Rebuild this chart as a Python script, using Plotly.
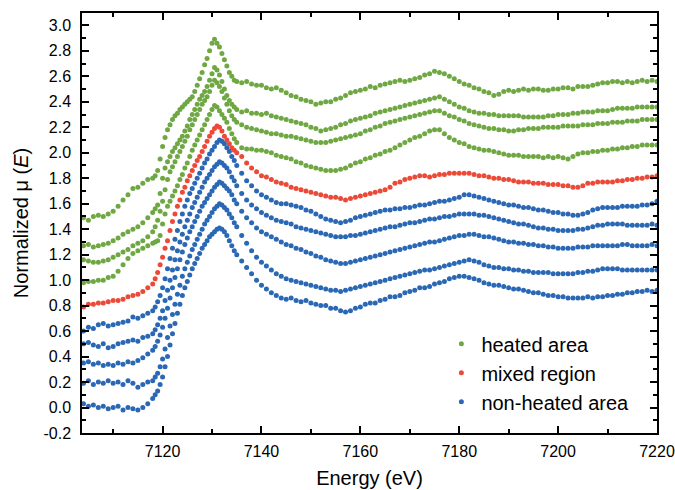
import plotly.graph_objects as go

# Energy sampling (eV): pre-edge 1 eV, edge 0.5 eV, post-edge 1 eV
E_PRE = list(range(7104, 7118))
E_EDGE = [7118 + 0.5 * i for i in range(35)]
E_POST = list(range(7136, 7221))
ENERGY = E_PRE + E_EDGE + E_POST

# ---------------- heated area (green) ----------------
G1_pre = [1.49, 1.47, 1.50, 1.51, 1.50, 1.52, 1.54, 1.58, 1.63, 1.67, 1.72, 1.73, 1.76, 1.79]
G1_edge = [1.80, 1.82, 1.86, 1.95, 2.05, 2.12, 2.18, 2.22, 2.26, 2.29,
           2.31, 2.34, 2.36, 2.38, 2.40, 2.42, 2.44, 2.48, 2.53, 2.58,
           2.63, 2.69, 2.74, 2.80, 2.86, 2.89, 2.86, 2.83, 2.78, 2.73,
           2.68, 2.63, 2.60, 2.57, 2.56]
G1_post = [2.55, 2.56, 2.54, 2.53, 2.53, 2.51, 2.50, 2.51, 2.49, 2.47,
           2.45, 2.44, 2.42, 2.41, 2.40, 2.38, 2.39, 2.40, 2.40, 2.42,
           2.43, 2.45, 2.47, 2.48, 2.49, 2.50, 2.52, 2.51, 2.53, 2.54,
           2.55, 2.56, 2.57, 2.56, 2.57, 2.58, 2.59, 2.61, 2.62, 2.64,
           2.63, 2.62, 2.60, 2.58, 2.56, 2.54, 2.53, 2.51, 2.50, 2.48,
           2.47, 2.45, 2.46, 2.48, 2.49, 2.48, 2.49, 2.50, 2.49, 2.50,
           2.50, 2.49, 2.49, 2.50, 2.50, 2.51, 2.51, 2.50, 2.52, 2.52,
           2.52, 2.53, 2.54, 2.55, 2.55, 2.56, 2.56, 2.55, 2.56, 2.55,
           2.56, 2.57, 2.56, 2.57, 2.56]

G2_pre = [1.27, 1.28, 1.26, 1.27, 1.28, 1.29, 1.31, 1.33, 1.36, 1.38, 1.40, 1.42, 1.45, 1.49]
G2_edge = [1.53, 1.56, 1.59, 1.68, 1.80, 1.88, 1.93, 1.97, 2.01, 2.04,
           2.07, 2.10, 2.13, 2.17, 2.21, 2.26, 2.30, 2.34, 2.38, 2.42,
           2.45, 2.48, 2.52, 2.57, 2.62, 2.67, 2.65, 2.61, 2.56, 2.50,
           2.45, 2.41, 2.38, 2.36, 2.34]
G2_post = [2.32, 2.33, 2.31, 2.31, 2.30, 2.31, 2.29, 2.28, 2.27, 2.26,
           2.25, 2.24, 2.23, 2.22, 2.20, 2.19, 2.17, 2.18, 2.19, 2.20,
           2.22, 2.23, 2.25, 2.26, 2.27, 2.28, 2.29, 2.31, 2.32, 2.33,
           2.34, 2.35, 2.36, 2.37, 2.38, 2.39, 2.40, 2.41, 2.42, 2.43,
           2.44, 2.42, 2.40, 2.38, 2.36, 2.35, 2.33, 2.32, 2.31, 2.31,
           2.30, 2.30, 2.29, 2.29, 2.29, 2.29, 2.29, 2.28, 2.28, 2.28,
           2.28, 2.28, 2.29, 2.29, 2.30, 2.30, 2.30, 2.31, 2.31, 2.32,
           2.32, 2.32, 2.33, 2.33, 2.33, 2.34, 2.35, 2.35, 2.35, 2.35,
           2.36, 2.36, 2.36, 2.36, 2.36]

G3_pre = [1.16, 1.15, 1.14, 1.14, 1.15, 1.16, 1.18, 1.20, 1.22, 1.24, 1.27, 1.29, 1.31, 1.34]
G3_edge = [1.38, 1.42, 1.47, 1.54, 1.62, 1.71, 1.79, 1.85, 1.89, 1.93,
           1.97, 2.01, 2.05, 2.09, 2.13, 2.18, 2.22, 2.26, 2.30, 2.34,
           2.38, 2.41, 2.44, 2.48, 2.53, 2.57, 2.55, 2.52, 2.48, 2.43,
           2.38, 2.33, 2.29, 2.26, 2.24]
G3_post = [2.22, 2.20, 2.19, 2.18, 2.17, 2.16, 2.15, 2.15, 2.14, 2.13,
           2.13, 2.12, 2.11, 2.10, 2.09, 2.08, 2.08, 2.08, 2.09, 2.10,
           2.11, 2.12, 2.13, 2.14, 2.15, 2.17, 2.18, 2.20, 2.21, 2.23,
           2.24, 2.25, 2.26, 2.27, 2.28, 2.29, 2.30, 2.31, 2.32, 2.33,
           2.33, 2.31, 2.29, 2.28, 2.26, 2.25, 2.23, 2.22, 2.21, 2.20,
           2.19, 2.19, 2.18, 2.18, 2.17, 2.17, 2.18, 2.18, 2.19, 2.19,
           2.19, 2.20, 2.20, 2.20, 2.20, 2.21, 2.21, 2.21, 2.21, 2.22,
           2.22, 2.22, 2.23, 2.23, 2.23, 2.24, 2.24, 2.24, 2.25, 2.25,
           2.25, 2.26, 2.26, 2.26, 2.26]

G4_pre = [0.98, 0.99, 0.99, 1.00, 1.00, 1.02, 1.03, 1.07, 1.12, 1.17, 1.21, 1.23, 1.25, 1.27]
G4_edge = [1.29, 1.30, 1.31, 1.35, 1.44, 1.52, 1.58, 1.62, 1.66, 1.70,
           1.74, 1.79, 1.83, 1.88, 1.92, 1.97, 2.02, 2.06, 2.10, 2.14,
           2.18, 2.22, 2.26, 2.30, 2.34, 2.37, 2.36, 2.33, 2.30, 2.27,
           2.24, 2.19, 2.15, 2.11, 2.08]
G4_post = [2.04, 2.03, 2.03, 2.02, 2.02, 2.01, 2.00, 1.98, 1.97, 1.96,
           1.95, 1.93, 1.92, 1.90, 1.89, 1.88, 1.87, 1.86, 1.86, 1.86,
           1.87, 1.88, 1.90, 1.92, 1.93, 1.95, 1.96, 1.98, 1.99, 2.01,
           2.02, 2.04, 2.06, 2.08, 2.10, 2.12, 2.13, 2.15, 2.17, 2.18,
           2.18, 2.15, 2.12, 2.10, 2.08, 2.07, 2.05, 2.04, 2.03, 2.02,
           2.02, 2.01, 2.00, 1.99, 1.98, 1.98, 1.98, 1.97, 1.97, 1.97,
           1.97, 1.96, 1.97, 1.96, 1.97, 1.96, 1.95, 1.97, 1.99, 2.00,
           2.00, 2.01, 2.01, 2.02, 2.02, 2.03, 2.03, 2.04, 2.04, 2.05,
           2.05, 2.06, 2.06, 2.06, 2.06]

# ---------------- mixed region (red) ----------------
R_pre = [0.79, 0.81, 0.81, 0.82, 0.82, 0.83, 0.84, 0.84, 0.85, 0.87, 0.88, 0.89, 0.91, 0.94]
R_edge = [0.97, 1.01, 1.06, 1.12, 1.18, 1.25, 1.31, 1.39, 1.46, 1.52,
          1.58, 1.63, 1.69, 1.73, 1.78, 1.82, 1.86, 1.90, 1.94, 1.97,
          2.01, 2.05, 2.09, 2.13, 2.16, 2.19, 2.21, 2.20, 2.17, 2.13,
          2.10, 2.07, 2.04, 2.02, 2.00]
R_post = [1.97, 1.92, 1.88, 1.85, 1.82, 1.81, 1.79, 1.77, 1.76, 1.75,
          1.73, 1.72, 1.71, 1.70, 1.69, 1.68, 1.67, 1.66, 1.65, 1.65,
          1.64, 1.63, 1.64, 1.65, 1.66, 1.67, 1.68, 1.69, 1.70, 1.71,
          1.73, 1.76, 1.77, 1.79, 1.80, 1.81, 1.82, 1.82, 1.81, 1.82,
          1.83, 1.83, 1.84, 1.84, 1.84, 1.84, 1.84, 1.83, 1.82, 1.82,
          1.81, 1.80, 1.80, 1.79, 1.79, 1.78, 1.77, 1.77, 1.77, 1.76,
          1.76, 1.76, 1.75, 1.75, 1.75, 1.74, 1.74, 1.73, 1.73, 1.74,
          1.76, 1.76, 1.77, 1.77, 1.77, 1.77, 1.78, 1.78, 1.79, 1.79,
          1.80, 1.80, 1.81, 1.81, 1.82]

# ---------------- non-heated area (blue) ----------------
B1_pre = [0.60, 0.63, 0.62, 0.65, 0.66, 0.64, 0.65, 0.66, 0.67, 0.68, 0.71, 0.70, 0.72, 0.74]
B1_edge = [0.76, 0.79, 0.83, 0.88, 0.94, 1.01, 1.09, 1.17, 1.25, 1.32,
           1.39, 1.46, 1.52, 1.58, 1.63, 1.68, 1.72, 1.76, 1.80, 1.84,
           1.88, 1.92, 1.95, 1.99, 2.02, 2.05, 2.08, 2.10, 2.09, 2.07,
           2.04, 2.01, 1.97, 1.94, 1.90]
B1_post = [1.84, 1.78, 1.74, 1.70, 1.67, 1.65, 1.63, 1.61, 1.60, 1.60,
           1.59, 1.58, 1.57, 1.55, 1.54, 1.52, 1.50, 1.48, 1.47, 1.46,
           1.45, 1.46, 1.47, 1.49, 1.50, 1.51, 1.52, 1.53, 1.54, 1.55,
           1.55, 1.56, 1.56, 1.57, 1.57, 1.58, 1.59, 1.59, 1.60, 1.61,
           1.62, 1.62, 1.63, 1.64, 1.65, 1.67, 1.67, 1.66, 1.65, 1.64,
           1.63, 1.62, 1.61, 1.60, 1.59, 1.59, 1.58, 1.57, 1.57, 1.56,
           1.55, 1.55, 1.54, 1.53, 1.53, 1.52, 1.52, 1.51, 1.51, 1.52,
           1.53, 1.55, 1.56, 1.57, 1.57, 1.57, 1.57, 1.58, 1.58, 1.58,
           1.58, 1.59, 1.59, 1.60, 1.62]

B2_pre = [0.50, 0.51, 0.49, 0.48, 0.50, 0.47, 0.48, 0.50, 0.51, 0.52, 0.53, 0.52, 0.55, 0.56]
B2_edge = [0.58, 0.61, 0.65, 0.70, 0.76, 0.84, 0.92, 1.00, 1.08, 1.16,
           1.23, 1.30, 1.36, 1.42, 1.47, 1.52, 1.57, 1.61, 1.65, 1.69,
           1.73, 1.77, 1.80, 1.83, 1.86, 1.89, 1.91, 1.93, 1.92, 1.90,
           1.88, 1.85, 1.81, 1.78, 1.74]
B2_post = [1.68, 1.63, 1.59, 1.56, 1.53, 1.51, 1.49, 1.47, 1.46, 1.45,
           1.44, 1.42, 1.41, 1.40, 1.39, 1.38, 1.37, 1.36, 1.35, 1.34,
           1.34, 1.34, 1.35, 1.35, 1.36, 1.37, 1.38, 1.39, 1.40, 1.41,
           1.42, 1.42, 1.43, 1.44, 1.45, 1.45, 1.46, 1.47, 1.48, 1.48,
           1.49, 1.50, 1.50, 1.51, 1.52, 1.52, 1.52, 1.52, 1.51, 1.51,
           1.50, 1.49, 1.48, 1.47, 1.46, 1.45, 1.44, 1.44, 1.43, 1.42,
           1.41, 1.41, 1.40, 1.40, 1.39, 1.39, 1.39, 1.39, 1.40, 1.40,
           1.41, 1.42, 1.43, 1.43, 1.44, 1.44, 1.44, 1.44, 1.43, 1.43,
           1.43, 1.43, 1.43, 1.44, 1.43]

B3_pre = [0.35, 0.36, 0.34, 0.35, 0.33, 0.34, 0.33, 0.35, 0.34, 0.36, 0.35, 0.37, 0.39, 0.42]
B3_edge = [0.45, 0.48, 0.52, 0.57, 0.63, 0.70, 0.78, 0.86, 0.94, 1.02,
           1.09, 1.16, 1.22, 1.28, 1.33, 1.38, 1.42, 1.46, 1.50, 1.54,
           1.58, 1.61, 1.64, 1.67, 1.70, 1.73, 1.75, 1.77, 1.76, 1.74,
           1.72, 1.70, 1.67, 1.63, 1.60]
B3_post = [1.54, 1.49, 1.45, 1.41, 1.38, 1.36, 1.34, 1.32, 1.30, 1.28,
           1.27, 1.25, 1.24, 1.22, 1.21, 1.19, 1.18, 1.16, 1.15, 1.14,
           1.13, 1.13, 1.14, 1.15, 1.16, 1.17, 1.18, 1.19, 1.20, 1.21,
           1.22, 1.23, 1.24, 1.25, 1.26, 1.27, 1.28, 1.29, 1.30, 1.30,
           1.31, 1.32, 1.33, 1.34, 1.35, 1.35, 1.36, 1.36, 1.35, 1.34,
           1.34, 1.33, 1.32, 1.31, 1.30, 1.30, 1.29, 1.29, 1.28, 1.28,
           1.27, 1.27, 1.26, 1.26, 1.25, 1.25, 1.25, 1.25, 1.26, 1.26,
           1.26, 1.27, 1.27, 1.27, 1.27, 1.27, 1.27, 1.28, 1.28, 1.27,
           1.27, 1.27, 1.27, 1.28, 1.27]

B4_pre = [0.19, 0.21, 0.18, 0.20, 0.19, 0.21, 0.19, 0.20, 0.18, 0.21, 0.19, 0.16, 0.18, 0.20]
B4_edge = [0.21, 0.24, 0.27, 0.32, 0.38, 0.46, 0.55, 0.64, 0.73, 0.81,
           0.89, 0.96, 1.03, 1.09, 1.14, 1.19, 1.24, 1.28, 1.32, 1.36,
           1.40, 1.44, 1.47, 1.50, 1.53, 1.56, 1.58, 1.60, 1.59, 1.57,
           1.55, 1.52, 1.49, 1.45, 1.42]
B4_post = [1.35, 1.29, 1.23, 1.18, 1.14, 1.11, 1.08, 1.05, 1.03, 1.01,
           1.00, 0.99, 0.98, 0.97, 0.96, 0.95, 0.94, 0.93, 0.92, 0.92,
           0.91, 0.92, 0.93, 0.94, 0.95, 0.96, 0.97, 0.98, 0.99, 1.00,
           1.01, 1.02, 1.03, 1.04, 1.05, 1.06, 1.07, 1.08, 1.08, 1.09,
           1.10, 1.11, 1.12, 1.13, 1.14, 1.15, 1.16, 1.15, 1.14, 1.12,
           1.11, 1.10, 1.10, 1.09, 1.09, 1.08, 1.08, 1.07, 1.07, 1.06,
           1.06, 1.06, 1.06, 1.05, 1.05, 1.05, 1.05, 1.05, 1.06, 1.06,
           1.07, 1.07, 1.08, 1.09, 1.09, 1.09, 1.09, 1.08, 1.08, 1.08,
           1.08, 1.08, 1.08, 1.08, 1.08]

B5_pre = [0.03, 0.01, 0.02, 0.00, 0.01, -0.01, 0.00, 0.01, -0.02, 0.00, -0.01, -0.02, 0.00, 0.03]
B5_edge = [0.07, 0.10, 0.13, 0.18, 0.24, 0.32, 0.40, 0.49, 0.58, 0.66,
           0.74, 0.81, 0.88, 0.94, 0.99, 1.04, 1.09, 1.13, 1.17, 1.21,
           1.25, 1.28, 1.31, 1.34, 1.36, 1.38, 1.40, 1.41, 1.40, 1.38,
           1.35, 1.31, 1.27, 1.23, 1.20]
B5_post = [1.15, 1.10, 1.05, 1.00, 0.96, 0.93, 0.90, 0.88, 0.86, 0.85,
           0.86, 0.84, 0.83, 0.84, 0.82, 0.81, 0.80, 0.80, 0.78, 0.78,
           0.76, 0.75, 0.76, 0.78, 0.79, 0.81, 0.82, 0.82, 0.84, 0.85,
           0.87, 0.87, 0.88, 0.90, 0.91, 0.92, 0.94, 0.94, 0.95, 0.97,
           0.98, 0.99, 1.01, 1.02, 1.03, 1.03, 1.02, 1.01, 1.00, 0.98,
           0.97, 0.96, 0.96, 0.95, 0.94, 0.93, 0.93, 0.92, 0.91, 0.90,
           0.90, 0.89, 0.88, 0.88, 0.87, 0.87, 0.86, 0.86, 0.86, 0.86,
           0.87, 0.86, 0.87, 0.87, 0.88, 0.88, 0.89, 0.89, 0.90, 0.90,
           0.91, 0.91, 0.92, 0.91, 0.92]

HEATED = [G1_pre + G1_edge + G1_post, G2_pre + G2_edge + G2_post,
          G3_pre + G3_edge + G3_post, G4_pre + G4_edge + G4_post]
MIXED = [R_pre + R_edge + R_post]
NONHEATED = [B1_pre + B1_edge + B1_post, B2_pre + B2_edge + B2_post,
             B3_pre + B3_edge + B3_post, B4_pre + B4_edge + B4_post,
             B5_pre + B5_edge + B5_post]

GROUPS = [("heated area", "#6fa843", HEATED),
          ("mixed region", "#ec4a38", MIXED),
          ("non-heated area", "#2a68b5", NONHEATED)]

fig = go.Figure()
for name, color, curves in GROUPS:
    for i, ys in enumerate(curves):
        fig.add_trace(go.Scatter(
            x=ENERGY, y=ys, mode="markers", name=name, legendgroup=name,
            showlegend=(i == 0),
            marker=dict(color=color, size=5, line=dict(width=0))))

FONT = "Arial, 'Liberation Sans', Helvetica, sans-serif"
XT = list(range(7120, 7221, 20))
YT = [round(-0.2 + 0.2 * k, 1) for k in range(17)]

fig.update_layout(
    width=675, height=490,
    margin=dict(l=82, r=18, t=13, b=57),
    plot_bgcolor="white", paper_bgcolor="white",
    font=dict(family=FONT, size=16, color="black"),
    legend=dict(x=0.625, y=0.259, xanchor="left", yanchor="top",
                font=dict(size=20), bgcolor="rgba(0,0,0,0)",
                tracegroupgap=0, itemsizing="trace"),
)
fig.update_xaxes(
    range=[7103.7, 7220], showline=True, linecolor="black", linewidth=1.5,
    mirror="ticks", ticks="inside", ticklen=7, tickwidth=1.5, tickcolor="black",
    tickvals=XT, ticktext=[str(v) for v in XT], ticklabelstandoff=3,
    minor=dict(tickvals=list(range(7110, 7220, 20)), ticks="inside",
               ticklen=4, tickwidth=1.5, tickcolor="black"),
    showgrid=False, zeroline=False, automargin=False,
    title=dict(text="Energy (eV)", font=dict(size=20), standoff=12),
)
fig.update_yaxes(
    range=[-0.2, 3.097], showline=True, linecolor="black", linewidth=1.5,
    mirror="ticks", ticks="inside", ticklen=7, tickwidth=1.5, tickcolor="black",
    tickvals=YT, ticktext=[f"{v:.1f}" for v in YT], ticklabelstandoff=6,
    minor=dict(tickvals=[round(-0.1 + 0.2 * k, 1) for k in range(16)],
               ticks="inside", ticklen=4, tickwidth=1.5, tickcolor="black"),
    showgrid=False, zeroline=False, automargin=False,
    title=dict(text="Normalized \u03bc (<i>E</i>)", font=dict(size=20), standoff=9),
)

fig.write_html(
    "out.html",
    config={"displayModeBar": False},
    post_script="document.body.style.margin='0px';document.body.style.overflow='hidden';",
)
